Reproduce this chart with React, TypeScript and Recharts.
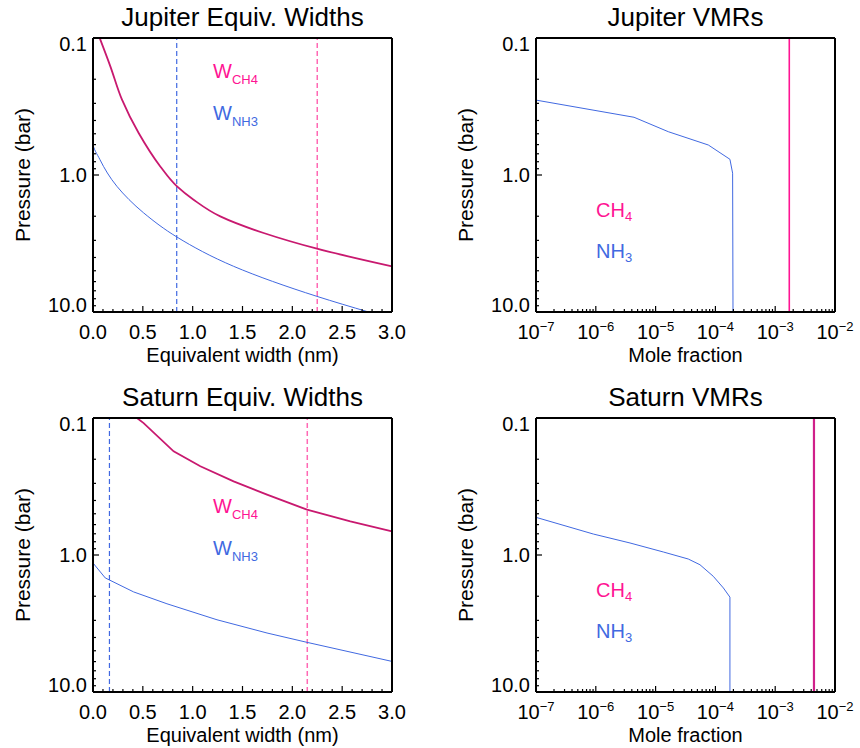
import React from "react";
import { ComposedChart, Line, XAxis, YAxis, ReferenceLine } from "recharts";

const FONT = '"Liberation Sans", Arial, Helvetica, sans-serif';

// ---- axis ticks ----
const pressureMajor = [0.1, 1, 10];
const pressureMinorSteps = [2, 3, 4, 5, 6, 7, 8, 9];
const widthMajor = [0, 0.5, 1, 1.5, 2, 2.5, 3];
const vmrMajor = [1e-7, 1e-6, 1e-5, 1e-4, 1e-3, 1e-2];

const pressureTicks = [
  ...pressureMajor,
  ...pressureMinorSteps.map((m) => m * 0.1),
  ...pressureMinorSteps.map((m) => m * 1),
].sort((a, b) => a - b);
const widthTicks = Array.from({ length: 31 }, (_, i) => i / 10);
const vmrTicks = [
  ...vmrMajor,
  ...vmrMajor.slice(0, -1).flatMap((d) => pressureMinorSteps.map((m) => m * d)),
].sort((a, b) => a - b);

// ---- Jupiter equivalent widths (nm) vs pressure (bar) ----
const jupEwCh4W = [0.067, 0.174, 0.291, 0.458, 0.675, 0.843, 1.009, 1.277, 1.712, 2.247, 3.0];
const jupEwCh4P = [0.1, 0.161, 0.282, 0.494, 0.866, 1.211, 1.515, 2.005, 2.651, 3.451, 4.648];
const jupEwNh3W = [0, 0, 0.07, 0.24, 0.508, 0.843, 1.411, 2.247, 2.765];
const jupEwNh3P = [0.1, 0.584, 0.773, 1.21, 1.89, 2.84, 4.64, 7.69, 10];
const jupDashNh3 = 0.84;
const jupDashCh4 = 2.25;

// ---- Saturn equivalent widths ----
const satEwCh4W = [0.441, 0.508, 0.809, 1.077, 1.411, 1.746, 2.147, 2.582, 3.0];
const satEwCh4P = [0.1, 0.109, 0.175, 0.225, 0.29, 0.363, 0.467, 0.568, 0.672];
const satEwNh3W = [0, 0, 0.123, 0.408, 0.742, 1.244, 1.746, 2.147, 3.0];
const satEwNh3P = [0.1, 1.144, 1.47, 1.86, 2.27, 2.97, 3.71, 4.34, 5.98];
const satDashNh3 = 0.165;
const satDashCh4 = 2.15;

// ---- Jupiter VMRs ----
const jupVmrNh3X = [1e-7, 4.36e-6, 1.63e-5, 7.62e-5, 1.75e-4, 1.94e-4, 1.97e-4];
const jupVmrNh3P = [0.284, 0.379, 0.483, 0.604, 0.768, 0.97, 10];
const jupVmrCh4X = [1.72e-3, 1.72e-3];
const jupVmrCh4P = [0.1, 10];

// ---- Saturn VMRs ----
const satVmrNh3X = [1e-7, 9.1e-7, 3.73e-6, 1.35e-5, 3.52e-5, 5.52e-5, 9.2e-5, 1.36e-4, 1.75e-4, 1.75e-4];
const satVmrNh3P = [0.531, 0.703, 0.817, 0.951, 1.07, 1.178, 1.43, 1.74, 2.03, 10];
const satVmrCh4X = [4.45e-3, 4.45e-3];
const satVmrCh4P = [0.1, 10];

const BLUE = "#4169e1";
const PINK = "#ff1493";
const MAGENTA = "#c8196f";
const LIGHTPINK = "#ff69b4";

const zip = (xs: number[], ps: number[]) => xs.map((x, i) => ({ x, p: ps[i] }));

type Orient = "bottom" | "top" | "left" | "right";

const isMajor = (v: number, majors: number[]) =>
  majors.some((m) => Math.abs(m - v) <= 1e-6 * Math.max(Math.abs(m), 1e-12));

const linLabel = (x: number, y: number, v: number) => (
  <text x={x} y={y + 27} textAnchor="middle" fontSize={20} fontFamily={FONT} fill="#000">
    {v.toFixed(1)}
  </text>
);

const logLabel = (x: number, y: number, v: number) => {
  const e = Math.round(Math.log10(v));
  return (
    <text x={x} y={y + 27} textAnchor="middle" fontSize={20} fontFamily={FONT} fill="#000">
      <tspan>10</tspan>
      <tspan dy={-8} fontSize={13}>{`\u2212${-e}`}</tspan>
    </text>
  );
};

const pLabel = (x: number, y: number, v: number) => {
  const shift = Math.abs(v - 0.1) < 1e-9 ? 6 : Math.abs(v - 10) < 1e-9 ? -7 : 0;
  return (
    <text x={x - 6} y={y + 7 + shift} textAnchor="end" fontSize={20} fontFamily={FONT} fill="#000">
      {v.toFixed(1)}
    </text>
  );
};

function makeTick(
  orient: Orient,
  majors: number[],
  label?: (x: number, y: number, v: number) => React.ReactNode
) {
  return (props: any) => {
    const { x, y, payload } = props;
    const v = Number(payload.value);
    const major = isMajor(v, majors);
    const len = major ? 6 : 3;
    let x2 = x;
    let y2 = y;
    if (orient === "bottom") y2 = y - len;
    if (orient === "top") y2 = y + len;
    if (orient === "left") x2 = x + len;
    if (orient === "right") x2 = x - len;
    return (
      <g>
        <line x1={x} y1={y} x2={x2} y2={y2} stroke="#000" strokeWidth={1.2} />
        {major && label ? label(x, y, v) : null}
      </g>
    );
  };
}

type Series = {
  pts: { x: number; p: number }[];
  color: string;
  width: number;
  curve: "linear" | "monotoneY";
};
type Dash = { x: number; color: string; width: number };

const AXIS = { stroke: "#000", strokeWidth: 2 };

interface PanelProps {
  left: number;
  top: number;
  ml: number;
  mr: number;
  title: string;
  xTitle: string;
  log: boolean;
  series: Series[];
  dashes: Dash[];
  notes: React.ReactNode;
}

function Panel({ left, top, ml, mr, title, xTitle, log, series, dashes, notes }: PanelProps) {
  const W = 430;
  const H = 368;
  const mt = 38;
  const mb = 56;
  const pw = W - ml - mr;
  const ph = H - mt - mb;
  const cx = ml + pw / 2;
  const xTicks = log ? vmrTicks : widthTicks;
  const xMajor = log ? vmrMajor : widthMajor;
  const xDomain = log ? [1e-7, 1e-2] : [0, 3];
  const xScale = log ? "log" : "linear";
  // every axis takes 1px, so margins are 1px less than the plot offsets
  const margin = { top: mt - 1, right: mr - 1, bottom: mb - 1, left: ml - 1 };

  return (
    <div style={{ position: "absolute", left, top, width: W, height: H }}>
      <ComposedChart width={W} height={H} margin={margin}>
        <XAxis
          xAxisId="b"
          orientation="bottom"
          dataKey="x"
          type="number"
          scale={xScale}
          domain={xDomain}
          ticks={xTicks}
          interval={0}
          height={1}
          tickSize={0}
          tickMargin={0}
          tickLine={false}
          axisLine={AXIS}
          tick={makeTick("bottom", xMajor, log ? logLabel : linLabel)}
        />
        <XAxis
          xAxisId="t"
          orientation="top"
          dataKey="x"
          type="number"
          scale={xScale}
          domain={xDomain}
          ticks={xTicks}
          interval={0}
          height={1}
          tickSize={0}
          tickMargin={0}
          tickLine={false}
          axisLine={AXIS}
          tick={makeTick("top", xMajor)}
        />
        <YAxis
          yAxisId="l"
          orientation="left"
          dataKey="p"
          type="number"
          scale="log"
          domain={[0.1, 10]}
          reversed
          ticks={pressureTicks}
          interval={0}
          width={1}
          tickSize={0}
          tickMargin={0}
          tickLine={false}
          axisLine={AXIS}
          tick={makeTick("left", pressureMajor, pLabel)}
        />
        <YAxis
          yAxisId="r"
          orientation="right"
          dataKey="p"
          type="number"
          scale="log"
          domain={[0.1, 10]}
          reversed
          ticks={pressureTicks}
          interval={0}
          width={1}
          tickSize={0}
          tickMargin={0}
          tickLine={false}
          axisLine={AXIS}
          tick={makeTick("right", pressureMajor)}
        />
        {dashes.map((d, i) => (
          <ReferenceLine
            key={`d${i}`}
            xAxisId="b"
            yAxisId="l"
            x={d.x}
            stroke={d.color}
            strokeWidth={d.width}
            strokeDasharray="5 3"
          />
        ))}
        {series.map((s, i) => (
          <Line
            key={`s${i}`}
            xAxisId="b"
            yAxisId="l"
            data={s.pts}
            dataKey="p"
            type={s.curve}
            stroke={s.color}
            strokeWidth={s.width}
            dot={false}
            activeDot={false}
            isAnimationActive={false}
          />
        ))}
        <text x={cx} y={mt - 12} textAnchor="middle" fontSize={26} fontFamily={FONT} fill="#000">
          {title}
        </text>
        <text x={cx} y={mt + ph + 50} textAnchor="middle" fontSize={20} fontFamily={FONT} fill="#000">
          {xTitle}
        </text>
        <text
          x={ml - 63}
          y={mt + ph / 2}
          textAnchor="middle"
          fontSize={21}
          fontFamily={FONT}
          fill="#000"
          transform={`rotate(-90, ${ml - 63}, ${mt + ph / 2})`}
        >
          Pressure (bar)
        </text>
        {notes}
      </ComposedChart>
    </div>
  );
}

const WNote = ({ x, y, sub, color }: { x: number; y: number; sub: string; color: string }) => (
  <text x={x} y={y} fontSize={20} fontFamily={FONT} fill={color}>
    <tspan>W</tspan>
    <tspan dy={6} fontSize={13}>{sub}</tspan>
  </text>
);

const GasNote = ({ x, y, base, sub, color }: { x: number; y: number; base: string; sub: string; color: string }) => (
  <text x={x} y={y} fontSize={20} fontFamily={FONT} fill={color}>
    <tspan>{base}</tspan>
    <tspan dy={4} fontSize={13}>{sub}</tspan>
  </text>
);

export default function App() {
  return (
    <div style={{ position: "absolute", left: 0, top: 0, width: 860, height: 748, background: "#fff", fontFamily: FONT }}>
      <Panel
        left={0}
        top={0}
        ml={93}
        mr={38}
        title="Jupiter Equiv. Widths"
        xTitle="Equivalent width (nm)"
        log={false}
        dashes={[
          { x: jupDashNh3, color: BLUE, width: 1.2 },
          { x: jupDashCh4, color: LIGHTPINK, width: 1.5 },
        ]}
        series={[
          { pts: zip(jupEwNh3W, jupEwNh3P), color: BLUE, width: 1, curve: "monotoneY" },
          { pts: zip(jupEwCh4W, jupEwCh4P), color: MAGENTA, width: 1.8, curve: "monotoneY" },
        ]}
        notes={
          <>
            <WNote x={213} y={78} sub="CH4" color={PINK} />
            <WNote x={213} y={120} sub="NH3" color={BLUE} />
          </>
        }
      />
      <Panel
        left={430}
        top={0}
        ml={106}
        mr={25}
        title="Jupiter VMRs"
        xTitle="Mole fraction"
        log={true}
        dashes={[]}
        series={[
          { pts: zip(jupVmrNh3X, jupVmrNh3P), color: BLUE, width: 1, curve: "linear" },
          { pts: zip(jupVmrCh4X, jupVmrCh4P), color: PINK, width: 1.6, curve: "linear" },
        ]}
        notes={
          <>
            <GasNote x={166} y={217} base="CH" sub="4" color={PINK} />
            <GasNote x={166} y={258} base="NH" sub="3" color={BLUE} />
          </>
        }
      />
      <Panel
        left={0}
        top={380}
        ml={93}
        mr={38}
        title="Saturn Equiv. Widths"
        xTitle="Equivalent width (nm)"
        log={false}
        dashes={[
          { x: satDashNh3, color: BLUE, width: 1.2 },
          { x: satDashCh4, color: LIGHTPINK, width: 1.5 },
        ]}
        series={[
          { pts: zip(satEwNh3W, satEwNh3P), color: BLUE, width: 1, curve: "linear" },
          { pts: zip(satEwCh4W, satEwCh4P), color: MAGENTA, width: 1.8, curve: "linear" },
        ]}
        notes={
          <>
            <WNote x={213} y={133} sub="CH4" color={PINK} />
            <WNote x={213} y={175} sub="NH3" color={BLUE} />
          </>
        }
      />
      <Panel
        left={430}
        top={380}
        ml={106}
        mr={25}
        title="Saturn VMRs"
        xTitle="Mole fraction"
        log={true}
        dashes={[]}
        series={[
          { pts: zip(satVmrNh3X, satVmrNh3P), color: BLUE, width: 1, curve: "linear" },
          { pts: zip(satVmrCh4X, satVmrCh4P), color: "#d0208a", width: 2.2, curve: "linear" },
        ]}
        notes={
          <>
            <GasNote x={166} y={217} base="CH" sub="4" color={PINK} />
            <GasNote x={166} y={258} base="NH" sub="3" color={BLUE} />
          </>
        }
      />
    </div>
  );
}
